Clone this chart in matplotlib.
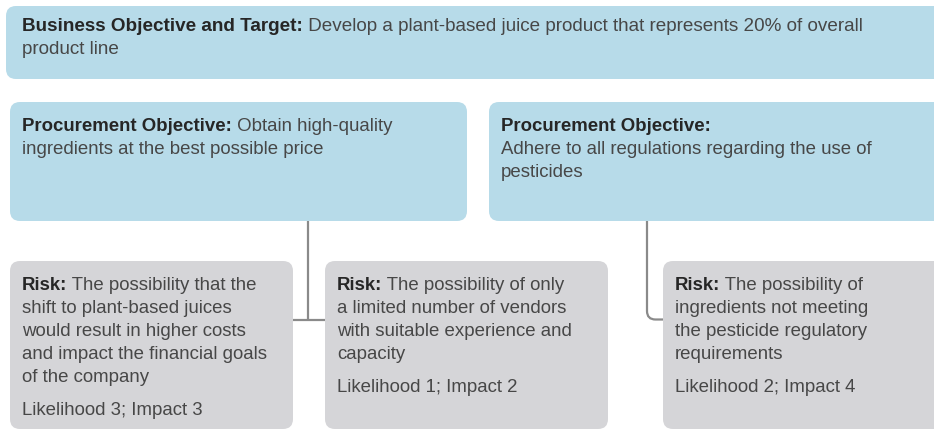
import matplotlib
matplotlib.use("Agg")
import matplotlib.pyplot as plt
from matplotlib.patches import FancyBboxPatch, PathPatch
from matplotlib.path import Path

plt.rcParams['font.family'] = ['Liberation Sans', 'DejaVu Sans']

# ---- content ----
top_label = "Business Objective and Target:"
top_lines = [" Develop a plant-based juice product that represents 20% of overall",
             "product line"]

proc_labels = ["Procurement Objective:", "Procurement Objective:"]
proc_lines = [[" Obtain high-quality", "ingredients at the best possible price"],
              ["", "Adhere to all regulations regarding the use of", "pesticides"]]

risk_label = "Risk:"
risk_lines = [[" The possibility that the", "shift to plant-based juices",
               "would result in higher costs", "and impact the financial goals",
               "of the company"],
              [" The possibility of only", "a limited number of vendors",
               "with suitable experience and", "capacity"],
              [" The possibility of", "ingredients not meeting",
               "the pesticide regulatory", "requirements"]]
likelihood = [3, 1, 2]
impact = [3, 2, 4]

# ---- style ----
W, H = 934, 431
BLUE = "#b7dbe9"
GRAY = "#d5d5d8"
LINE = "#8a8a8a"
BOLD_C = "#262626"
REG_C = "#474747"
FS = 13.4
FS_TOP = 13.6
LH = 23

fig = plt.figure(figsize=(W / 100, H / 100), dpi=100)
ax = fig.add_axes([0, 0, 1, 1])
ax.set_xlim(0, W)
ax.set_ylim(H, 0)
ax.axis('off')
renderer = fig.canvas.get_renderer()


def box(x0, y0, x1, y1, color):
    p = FancyBboxPatch((x0, y0), x1 - x0, y1 - y0,
                       boxstyle="round,pad=0,rounding_size=10",
                       fc=color, ec='none', zorder=1)
    ax.add_patch(p)


def rich_line(x, y, bold, rest, fs):
    if bold:
        t = ax.text(x, y, bold, fontsize=fs, fontweight='bold', color=BOLD_C,
                    va='baseline', ha='left', zorder=3)
        bb = t.get_window_extent(renderer)
        x = x + bb.width
    if rest:
        ax.text(x, y, rest, fontsize=fs, color=REG_C, va='baseline', ha='left', zorder=3)


# boxes
box(6, 7, W + 20, 80, BLUE)
box(10, 103, 467, 222, BLUE)
box(489, 103, W + 20, 222, BLUE)
box(10, 262, 293, 430, GRAY)
box(325, 262, 608, 430, GRAY)
box(663, 262, W + 20, 430, GRAY)

# connectors
ax.plot([307.5, 307.5], [222, 320.5], color=LINE, lw=1.6, zorder=2, solid_capstyle='butt')
ax.plot([293, 325], [320.5, 320.5], color=LINE, lw=1.6, zorder=2, solid_capstyle='butt')
verts = [(647, 222), (647, 312), (647, 320.5), (655.5, 320.5), (663, 320.5)]
codes = [Path.MOVETO, Path.LINETO, Path.CURVE3, Path.CURVE3, Path.LINETO]
ax.add_patch(PathPatch(Path(verts, codes), fc='none', ec=LINE, lw=1.6, zorder=2))

# top text
rich_line(22, 31, top_label, top_lines[0], FS_TOP)
rich_line(22, 54, None, top_lines[1], FS_TOP)

# procurement text
for (px, lines, lab) in zip([22, 501], proc_lines, proc_labels):
    y = 131
    for i, ln in enumerate(lines):
        rich_line(px, y, lab if i == 0 else None, ln, FS)
        y += LH

# risk text
for (rx, lines, lk, im) in zip([22, 337, 675], risk_lines, likelihood, impact):
    y = 290
    for i, ln in enumerate(lines):
        rich_line(rx, y, risk_label if i == 0 else None, ln, FS)
        y += LH
    rich_line(rx, y + 10, None, f"Likelihood {lk}; Impact {im}", FS)

fig.savefig("out.png", dpi=100, facecolor="white")
